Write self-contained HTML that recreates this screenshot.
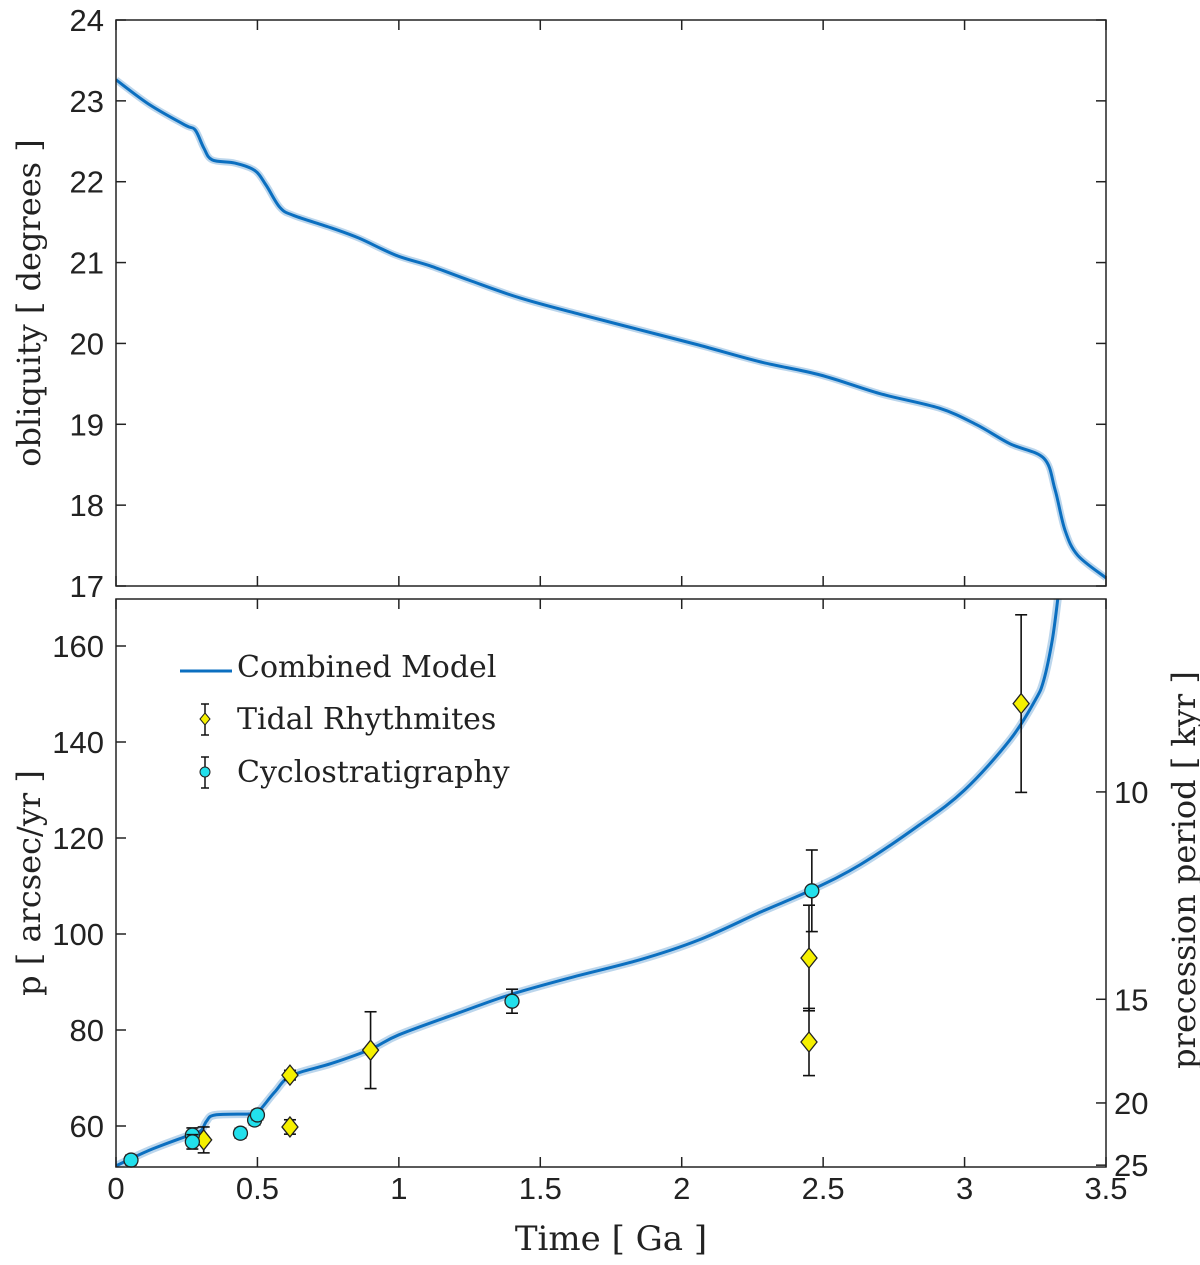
<!DOCTYPE html>
<html><head><meta charset="utf-8"><style>
html,body{margin:0;padding:0;background:#fff;}
svg text{font-family:"DejaVu Serif","Liberation Serif",serif;fill:#222;}
svg text.tick{font-family:"Liberation Sans",sans-serif;}
</style></head><body>
<svg id="chart" width="1200" height="1260" xmlns="http://www.w3.org/2000/svg"></svg>
<script>
// Top panel: obliquity model
const oblTime = [0,0.12,0.244,0.28,0.31,0.34,0.42,0.49,0.53,0.58,0.63,0.76,0.86,0.99,1.11,1.25,1.43,1.64,1.85,2.06,2.28,2.49,2.70,2.91,3.04,3.16,3.28,3.32,3.355,3.40,3.5];
const oblValue = [23.26,22.95,22.70,22.64,22.42,22.27,22.23,22.14,21.96,21.68,21.58,21.43,21.30,21.09,20.96,20.78,20.56,20.36,20.17,19.98,19.77,19.61,19.38,19.20,19.0,18.76,18.58,18.19,17.69,17.38,17.1];
// Bottom panel: precession model
const pTime = [0,0.12,0.26,0.30,0.32,0.35,0.47,0.5,0.56,0.62,0.76,0.9,1.0,1.22,1.39,1.6,1.85,2.06,2.28,2.46,2.63,2.84,3.0,3.16,3.25,3.28,3.31,3.33];
const pValue = [51.7,55,58.1,59.0,61,62.3,62.5,62.8,67,70.5,73,76,79,83.75,87.3,90.8,94.6,98.75,104.6,109.2,114.4,122.7,130,140.4,148.75,152.9,161.25,170];
// Tidal rhythmites
const trTime = [0.31,0.615,0.615,0.9,2.45,2.45,3.2];
const trValue = [57.1,70.6,59.8,75.8,95,77.5,148];
const trErr = [2.7,1,1.5,8,11,7,18.5];
// Cyclostratigraphy
const cyTime = [0.053,0.27,0.27,0.44,0.49,0.5,1.4,2.46];
const cyValue = [52.9,58.1,56.7,58.5,61.25,62.3,86,109];
const cyErr = [1,1.5,1.5,1,1,1,2.5,8.5];
// Ticks
const xTicks = [0,0.5,1,1.5,2,2.5,3,3.5];
const xTickLabels = ["0","0.5","1","1.5","2","2.5","3","3.5"];
const oblTicks = [17,18,19,20,21,22,23,24];
const pTicks = [60,80,100,120,140,160];
const periodTicks = [10,15,20,25];

const NS="http://www.w3.org/2000/svg";
const svg=document.getElementById('chart');
function mk(tag,attrs,parent){const e=document.createElementNS(NS,tag);for(const k in attrs)e.setAttribute(k,attrs[k]);(parent||svg).appendChild(e);return e;}
const X0=116,X1=1106;
const sx=t=>X0+(t/3.5)*(X1-X0);
const T0=20,T1=586;
const sy1=v=>T1-(v-17)/7*(T1-T0);
const B0=599,B1=1167;
const sy2=p=>1126-(p-60)*4.8;

const defs=mk('defs',{});
const cp=mk('clipPath',{id:'clipB'},defs);mk('rect',{x:X0,y:B0,width:X1-X0,height:B1-B0},cp);
const cpt=mk('clipPath',{id:'clipT'},defs);mk('rect',{x:X0,y:T0,width:X1-X0,height:T1-T0},cpt);

function smooth(xs,ys){
  const P=xs.map((x,i)=>[x,ys[i]]);
  let d='M'+P[0][0].toFixed(1)+','+P[0][1].toFixed(1);
  for(let i=0;i<P.length-1;i++){
    const p0=P[Math.max(0,i-1)],p1=P[i],p2=P[i+1],p3=P[Math.min(P.length-1,i+2)];
    const c1=[p1[0]+(p2[0]-p0[0])/6,p1[1]+(p2[1]-p0[1])/6];
    const c2=[p2[0]-(p3[0]-p1[0])/6,p2[1]-(p3[1]-p1[1])/6];
    d+=`C${c1[0].toFixed(1)},${c1[1].toFixed(1)} ${c2[0].toFixed(1)},${c2[1].toFixed(1)} ${p2[0].toFixed(1)},${p2[1].toFixed(1)}`;
  }
  return d;
}

let d=smooth(oblTime.map(sx),oblValue.map(sy1));
let l=mk('path',{d:d,fill:'none',stroke:'#bcd6ec','stroke-width':7,'clip-path':'url(#clipT)'});


l=mk('path',{d:d,fill:'none',stroke:'#0b6fc0','stroke-width':3,'clip-path':'url(#clipT)'});



d=smooth(pTime.map(sx),pValue.map(sy2));
l=mk('path',{d:d,fill:'none',stroke:'#bcd6ec','stroke-width':8,'clip-path':'url(#clipB)'});


l=mk('path',{d:d,fill:'none',stroke:'#0b6fc0','stroke-width':3,'clip-path':'url(#clipB)'});



function errbar(x,y,e,name){
  const g=mk('g',{stroke:'#111','stroke-width':1.6});
  
  
  const y1=sy2(y+e),y2=sy2(y-e);
  mk('line',{x1:x,x2:x,y1:y1,y2:y2},g);
  mk('line',{x1:x-6,x2:x+6,y1:y1,y2:y1},g);
  mk('line',{x1:x-6,x2:x+6,y1:y2,y2:y2},g);
}
trTime.forEach((t,i)=>{
  const x=sx(t),y=sy2(trValue[i]);
  errbar(x,trValue[i],trErr[i],'tidal-errorbar');
  const p=mk('polygon',{points:`${x},${y-10} ${x+8},${y} ${x},${y+10} ${x-8},${y}`,fill:'#f5f000',stroke:'#222','stroke-width':1.3});
  
  
});
cyTime.forEach((t,i)=>{
  const x=sx(t),y=sy2(cyValue[i]);
  errbar(x,cyValue[i],cyErr[i],'cyclo-errorbar');
  const c=mk('circle',{cx:x,cy:y,r:7,fill:'#22e0ec',stroke:'#222','stroke-width':1.3});
  
  
});

let r=mk('rect',{x:X0,y:T0,width:X1-X0,height:T1-T0,fill:'none',stroke:'#222','stroke-width':1.5});


r=mk('rect',{x:X0,y:B0,width:X1-X0,height:B1-B0,fill:'none',stroke:'#222','stroke-width':1.5});



function txt(s,x,y,attrs,name){const e=mk('text',Object.assign({x:x,y:y},attrs));e.textContent=s;
  
  return e;}

xTicks.forEach((t,i)=>{
  const x=sx(t);
  mk('line',{x1:x,x2:x,y1:T1,y2:T1-10,stroke:'#222','stroke-width':1.5});
  mk('line',{x1:x,x2:x,y1:T0,y2:T0+10,stroke:'#222','stroke-width':1.5});
  mk('line',{x1:x,x2:x,y1:B1,y2:B1-10,stroke:'#222','stroke-width':1.5});
  mk('line',{x1:x,x2:x,y1:B0,y2:B0+10,stroke:'#222','stroke-width':1.5});
  txt(xTickLabels[i],x,1199,{'font-size':31,'text-anchor':'middle','class':'tick'},'x-tick-label');
});
oblTicks.forEach(v=>{
  const y=sy1(v);
  mk('line',{x1:X0,x2:X0+10,y1:y,y2:y,stroke:'#222','stroke-width':1.5});
  mk('line',{x1:X1,x2:X1-10,y1:y,y2:y,stroke:'#222','stroke-width':1.5});
  txt(String(v),104,y+11,{'font-size':31,'text-anchor':'end','class':'tick'},'obliquity-tick-label');
});
pTicks.forEach(v=>{
  const y=sy2(v);
  mk('line',{x1:X0,x2:X0+10,y1:y,y2:y,stroke:'#222','stroke-width':1.5});
  txt(String(v),104,y+11,{'font-size':31,'text-anchor':'end','class':'tick'},'p-tick-label');
});
periodTicks.forEach(v=>{
  const y=sy2(1296/v);
  mk('line',{x1:X1,x2:X1-10,y1:y,y2:y,stroke:'#222','stroke-width':1.5});
  txt(String(v),1114,y+11,{'font-size':31,'text-anchor':'start','class':'tick'},'period-tick-label');
});
txt('Time [ Ga ]',611,1250,{'font-size':34,'text-anchor':'middle'},'x-axis-title');
txt('obliquity [ degrees ]',40,303,{'font-size':32,'text-anchor':'middle',transform:'rotate(-90 40 303)'},'obliquity-axis-title');
txt('p [ arcsec/yr ]',40,883,{'font-size':32,'text-anchor':'middle',transform:'rotate(-90 40 883)'},'p-axis-title');
txt('precession period [ kyr ]',1195,870,{'font-size':32,'text-anchor':'middle',transform:'rotate(-90 1195 870)'},'period-axis-title');

const lg=mk('g',{});


mk('line',{x1:180,x2:232,y1:671,y2:671,stroke:'#0b6fc0','stroke-width':3},lg);
txt('Combined Model',237,677,{'font-size':30},'legend-combined-model');
[[719,'tidal'],[772,'cyclo']].forEach(([y,k])=>{
  mk('line',{x1:205,x2:205,y1:y-15,y2:y+16,stroke:'#111','stroke-width':1.5},lg);
  mk('line',{x1:201,x2:209,y1:y-15,y2:y-15,stroke:'#111','stroke-width':1.5},lg);
  mk('line',{x1:201,x2:209,y1:y+16,y2:y+16,stroke:'#111','stroke-width':1.5},lg);
  if(k==='tidal')mk('polygon',{points:`205,${y-6} 210,${y} 205,${y+6} 200,${y}`,fill:'#f5f000',stroke:'#222'},lg);
  else mk('circle',{cx:205,cy:y,r:5,fill:'#22e0ec',stroke:'#222'},lg);
});
txt('Tidal Rhythmites',237,729,{'font-size':30},'legend-tidal-rhythmites');
txt('Cyclostratigraphy',237,782,{'font-size':30},'legend-cyclostratigraphy');
</script>
</body></html>
